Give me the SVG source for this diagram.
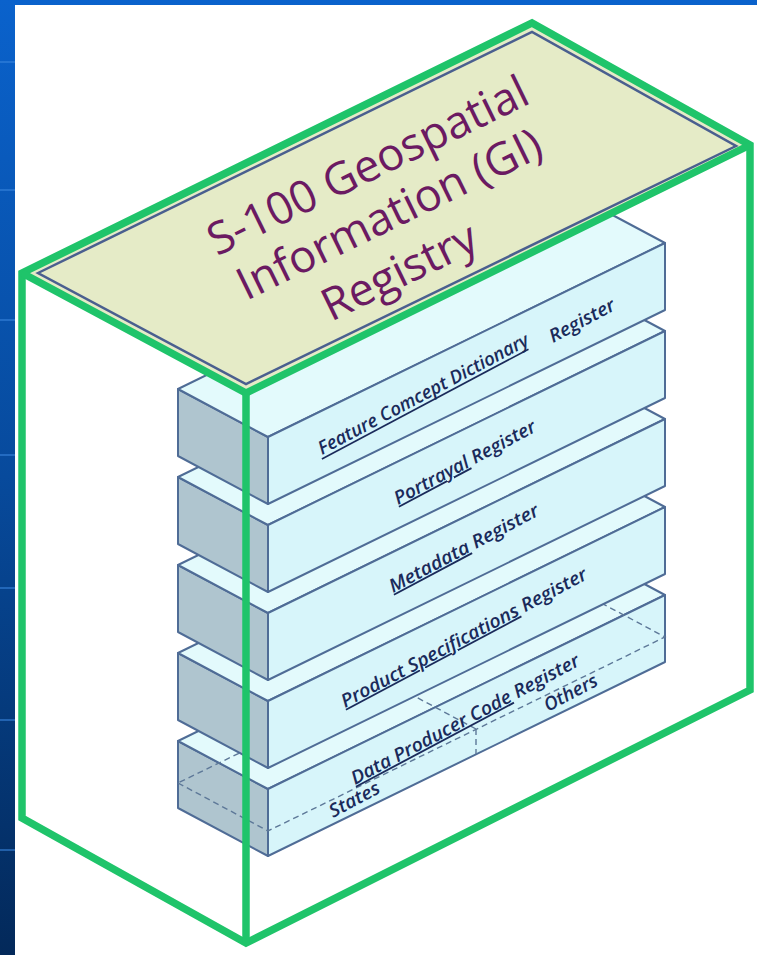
<svg xmlns="http://www.w3.org/2000/svg" width="757" height="955" viewBox="0 0 757 955">
<defs>
<linearGradient id="bg" x1="0" y1="0" x2="0" y2="1">
<stop offset="0" stop-color="#0a62cc"/>
<stop offset="0.5" stop-color="#074a9c"/>
<stop offset="1" stop-color="#03295a"/>
</linearGradient>
<style>
.lf{fill:#afc5cf;stroke:#4f6c96;stroke-width:2;stroke-linejoin:round}
.tf{fill:#e3fafc;stroke:#4f6c96;stroke-width:2;stroke-linejoin:round}
.ff{fill:#d7f5fa;stroke:#4f6c96;stroke-width:2;stroke-linejoin:round}
.dash{fill:none;stroke:#5d7898;stroke-width:1.4;stroke-dasharray:6 4}
.lbl{font-family:"Open Sans","Liberation Sans",sans-serif;font-style:italic;font-weight:600;font-size:18.5px;fill:#1a2a5a}
.u{text-decoration:underline;text-decoration-skip-ink:none}
.ul{stroke:#1a2a5a;stroke-width:1.6}
.title{font-family:"Open Sans","Liberation Sans",sans-serif;font-size:45px;fill:#6b1a62;text-anchor:middle}
.g{fill:none;stroke:#1fc46a;stroke-width:7.5;stroke-linejoin:miter}
.strip{stroke:#3a86de;stroke-width:2;opacity:0.55}
</style>
</defs>
<g id="background">
<rect x="0" y="0" width="757" height="955" fill="url(#bg)"/>
<rect x="15" y="5" width="742" height="950" fill="#ffffff"/>
<line class="strip" x1="0" y1="62" x2="15" y2="62"/>
<line class="strip" x1="0" y1="190" x2="15" y2="190"/>
<line class="strip" x1="0" y1="320" x2="15" y2="320"/>
<line class="strip" x1="0" y1="455" x2="15" y2="455"/>
<line class="strip" x1="0" y1="588" x2="15" y2="588"/>
<line class="strip" x1="0" y1="720" x2="15" y2="720"/>
<line class="strip" x1="0" y1="850" x2="15" y2="850"/>
</g>
<g id="slab-data-producer">
<polygon class="lf" points="178,741 268,789 268,856 178,808"/>
<polygon class="tf" points="178,741 268,789 665,595 575,547"/>
<polygon class="ff" points="268,789 665,595 665,662 268,856"/>
<polygon class="dash" points="178,783 268,831 665,637 575,589"/>
<path class="dash" d="M476,729 L476,754 M476,729 L386,681"/>
<text class="lbl" transform="translate(355,785) rotate(-28)" textLength="256" lengthAdjust="spacingAndGlyphs"><tspan class="u">Data Producer Code</tspan> Register</text>
<text class="lbl" transform="translate(333,818) rotate(-28)" textLength="55" lengthAdjust="spacingAndGlyphs">States</text>
<text class="lbl" transform="translate(548,712) rotate(-28)" textLength="58" lengthAdjust="spacingAndGlyphs">Others</text>
</g>
<g id="slab-product-specifications">
<polygon class="lf" points="178,653 268,701 268,768 178,720"/>
<polygon class="tf" points="178,653 268,701 665,507 575,459"/>
<polygon class="ff" points="268,701 665,507 665,574 268,768"/>
<text class="lbl" transform="translate(345,708) rotate(-28)" textLength="276" lengthAdjust="spacingAndGlyphs"><tspan class="u">Product Specifications</tspan> Register</text>
</g>
<g id="slab-metadata">
<polygon class="lf" points="178,565 268,613 268,680 178,632"/>
<polygon class="tf" points="178,565 268,613 665,419 575,371"/>
<polygon class="ff" points="268,613 665,419 665,486 268,680"/>
<text class="lbl" transform="translate(393,593) rotate(-28)" textLength="167" lengthAdjust="spacingAndGlyphs"><tspan class="u">Metadata</tspan> Register</text>
</g>
<g id="slab-portrayal">
<polygon class="lf" points="178,477 268,525 268,592 178,544"/>
<polygon class="tf" points="178,477 268,525 665,331 575,283"/>
<polygon class="ff" points="268,525 665,331 665,398 268,592"/>
<text class="lbl" transform="translate(398,505) rotate(-28)" textLength="158" lengthAdjust="spacingAndGlyphs"><tspan class="u">Portrayal</tspan> Register</text>
</g>
<g id="slab-feature-concept-dictionary">
<polygon class="lf" points="178,389 268,437 268,504 178,456"/>
<polygon class="tf" points="178,389 268,437 665,243 575,195"/>
<polygon class="ff" points="268,437 665,243 665,310 268,504"/>
<g transform="translate(322,455) rotate(-28)">
<text class="lbl" x="0" y="0" textLength="236" lengthAdjust="spacingAndGlyphs">Feature Comcept Dictionary</text>
<line class="ul" x1="-2" y1="3.5" x2="232" y2="3.5"/>
</g>
<text class="lbl" transform="translate(553,343) rotate(-28)" textLength="72" lengthAdjust="spacingAndGlyphs">Register</text>
</g>
<g id="registry-top">
<polygon points="22,273 532,23 750,145 246,393" fill="#e5ebc7"/>
<polygon points="38,273 532,32 736,146 246,384" fill="none" stroke="#4a5f8f" stroke-width="2.5"/>
<g transform="translate(396,228) rotate(-26)">
<text class="title" x="2" y="-53">S-100 Geospatial</text>
<text class="title" x="0" y="0">Information (GI)</text>
<text class="title" x="-16" y="56">Registry</text>
</g>
</g>
<g id="registry-frame">
<path class="g" d="M246,943 L22,818 L22,273 L532,23 L750,145 L750,690 Z"/>
<path class="g" d="M22,273 L246,393 L750,145"/>
<path class="g" d="M246,393 L246,943"/>
</g>
</svg>
